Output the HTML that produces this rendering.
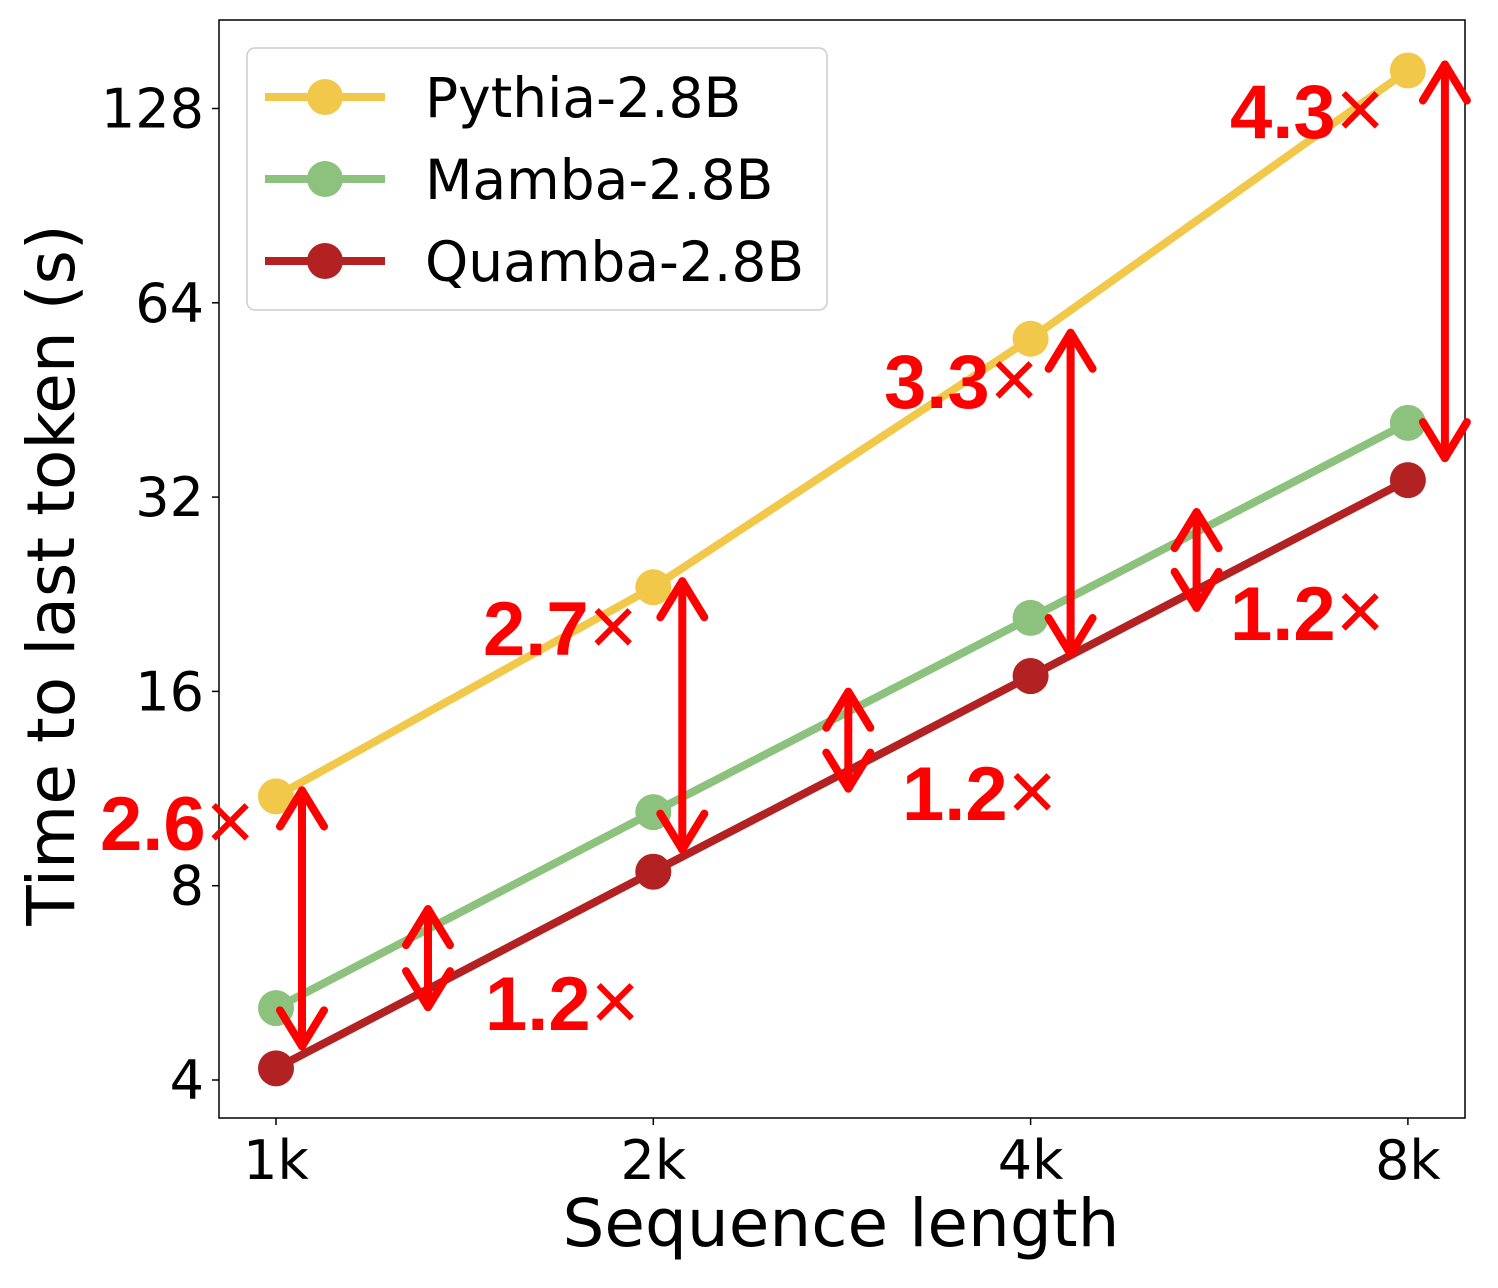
<!DOCTYPE html>
<html><head><meta charset="utf-8"><style>
html,body{margin:0;padding:0;background:#fff}
svg text{font-family:"DejaVu Sans","Liberation Sans",sans-serif}
</style></head><body>
<svg width="1498" height="1283" viewBox="0 0 1498 1283" xmlns="http://www.w3.org/2000/svg">
<rect x="219" y="20" width="1246" height="1098" fill="none" stroke="#000" stroke-width="1.5"/>
<g id="ticks"></g>
<g id="series"></g>
<g id="annots"></g>
<text x="841" y="1246" font-size="66" text-anchor="middle">Sequence length</text>
<text transform="translate(74,575) rotate(-90)" font-size="66" text-anchor="middle">Time to last token (s)</text>
<g>
<rect x="247" y="48" width="580" height="262" rx="8" fill="#fff" stroke="#ccc" stroke-width="1.5"/>
<g><line x1="265" y1="97" x2="385" y2="97" stroke="#f2c84b" stroke-width="8"/><circle cx="325" cy="97" r="18" fill="#f2c84b"/><text x="425" y="117" font-size="55">Pythia-2.8B</text></g>
<g><line x1="265" y1="179" x2="385" y2="179" stroke="#8cc27d" stroke-width="8"/><circle cx="325" cy="179" r="18" fill="#8cc27d"/><text x="425" y="199" font-size="55">Mamba-2.8B</text></g>
<g><line x1="265" y1="261" x2="385" y2="261" stroke="#b22222" stroke-width="8"/><circle cx="325" cy="261" r="18" fill="#b22222"/><text x="425" y="281" font-size="55">Quamba-2.8B</text></g>
</g>
</svg>
<script>
const categories=["1k","2k","4k","8k"];
const yTicks=[4,8,16,32,64,128];
const pythia=[11.0,23.2,56.3,146.6];
const mamba=[5.17,10.4,20.8,41.7];
const quamba=[4.17,8.41,16.9,34.0];
const NS="http://www.w3.org/2000/svg";
const x=i=>276+i*377.3;
const y=v=>1080-194.3*Math.log2(v/4);
function mk(tag,at,parent){const e=document.createElementNS(NS,tag);for(const k in at)e.setAttribute(k,at[k]);parent.appendChild(e);return e;}
const tg=document.getElementById('ticks');
yTicks.forEach(t=>{
 const l=mk('line',{x1:212,x2:219,y1:y(t),y2:y(t),stroke:'#000','stroke-width':1.5},tg);
 
 
 const tx=mk('text',{x:204,y:y(t)+19,'font-size':54,'text-anchor':'end'},tg);tx.textContent=t;
 
 
});
categories.forEach((c,i)=>{
 const l=mk('line',{x1:x(i),x2:x(i),y1:1118,y2:1125,stroke:'#000','stroke-width':1.5},tg);
 
 
 const tx=mk('text',{x:x(i),y:1179,'font-size':54,'text-anchor':'middle'},tg);tx.textContent=c;
 
 
});
const sg=document.getElementById('series');
[[pythia,'#f2c84b','pythia'],[mamba,'#8cc27d','mamba'],[quamba,'#b22222','quamba']].forEach(([d,c,n])=>{
 const p=mk('polyline',{points:d.map((v,i)=>x(i)+','+y(v)).join(' '),fill:'none',stroke:c,'stroke-width':8},sg);
 
 
 d.forEach((v,i)=>{const m=mk('circle',{cx:x(i),cy:y(v),r:18,fill:c},sg);
  
  });
});
const ag=document.getElementById('annots');
function arrow(ax,y1,y2){
 const g=mk('g',{stroke:'#ff0000','stroke-width':8,fill:'none','stroke-linecap':'round','stroke-linejoin':'round'},ag);
 
 
 mk('line',{x1:ax,x2:ax,y1:y1+2,y2:y2-2},g);
 mk('polyline',{points:`${ax-22},${y1+38} ${ax},${y1+2} ${ax+22},${y1+38}`},g);
 mk('polyline',{points:`${ax-22},${y2-38} ${ax},${y2-2} ${ax+22},${y2-38}`},g);
}
function label(tx,ty,num){
 const t=mk('text',{x:tx,y:ty,'font-size':70,fill:'#ff0000'},ag);
 
 
 const a=mk('tspan',{'font-weight':'bold','font-family':'Liberation Sans, sans-serif','font-size':76},t);a.textContent=num;
 const b=mk('tspan',{'font-size':84,'font-family':'Liberation Sans, sans-serif'},t);b.textContent='×';
}
const bigOff=[26,29,40,37];
[0,1,2,3].forEach(i=>{arrow(x(i)+bigOff[i],y(pythia[i])-8,y(quamba[i])-20);});
const smallOff=[152,195,166];
[0,1,2].forEach(i=>{const xm=x(i)+smallOff[i];const f=smallOff[i]/377.3;
 const ym=y(mamba[i])+(y(mamba[i+1])-y(mamba[i]))*f, yq=y(quamba[i])+(y(quamba[i+1])-y(quamba[i]))*f;
 arrow(xm,ym-22,yq+20);});
label(100,850,'2.6');label(483,655,'2.7');label(884,408,'3.3');label(1230,138,'4.3');
label(485,1030,'1.2');label(902,820,'1.2');label(1230,640,'1.2');
</script>
</body></html>
